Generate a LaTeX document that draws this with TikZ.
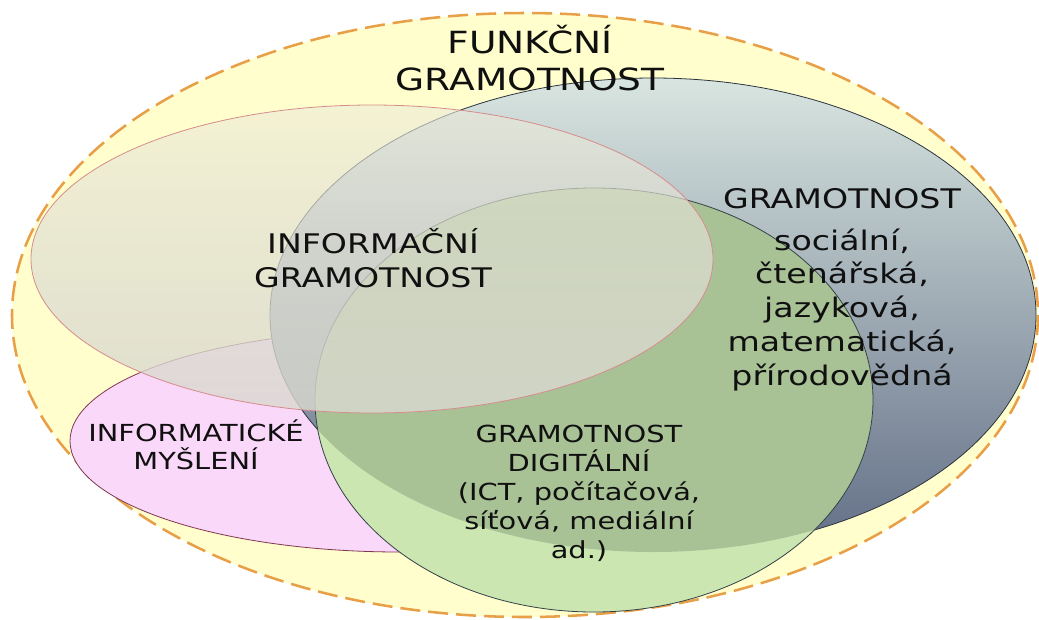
\documentclass[tikz,border=0pt]{standalone}
\usepackage{fontspec}
\usepackage{tikz}
\usetikzlibrary{fadings}
\newfontfamily\vennfont[FakeStretch=1.23]{DejaVu Sans}

\begin{document}
\begin{tikzpicture}[x=0.75pt,y=0.75pt,yscale=-1,xscale=1,
	lbl/.style={anchor=base, inner sep=0.75pt, align=center, color={rgb, 255:red, 16; green, 16; blue, 16 }}]
	      		%set diagram size to 1039 x 619
	      		\useasboundingbox (0,0) rectangle (1039,619);
	      		
	      		%Shape: Ellipse [id:funkcni] 
	      		\draw  [color={rgb, 255:red, 232; green, 160; blue, 72 }  ,draw opacity=1 ][fill={rgb, 255:red, 255; green, 254; blue, 204 }  ,fill opacity=1 ][line width=1.9]  [dash pattern={on 15pt off 6pt}] (525,315) ellipse [x radius=513, y radius=302] ;
	      		%Shape: Ellipse [id:myslenije] 
	      		\draw  [color={rgb, 255:red, 128; green, 56; blue, 80 }  ,draw opacity=1 ][fill={rgb, 255:red, 250; green, 216; blue, 250 }  ,fill opacity=1 ][line width=0.6]  (400,441) ellipse [x radius=330, y radius=111] ;
	      		%Shape: Ellipse [id:ctenarska] 
	      		\shade  [top color={rgb, 255:red, 216; green, 229; blue, 224 }, middle color={rgb, 255:red, 190; green, 203; blue, 211 }, bottom color={rgb, 255:red, 98; green, 110; blue, 134 }] (653,315) ellipse [x radius=383, y radius=237] ;
	      		\draw  [color={rgb, 255:red, 44; green, 52; blue, 64 }  ,draw opacity=1 ][line width=0.6]  (653,315) ellipse [x radius=383, y radius=237] ;
	      		%Shape: Ellipse [id:digitalni] 
	      		\fill  [color={rgb, 255:red, 204; green, 230; blue, 178 }  ] (594,400) ellipse [x radius=279, y radius=212] ;
	      		\begin{scope}
	      		\clip (594,400) ellipse [x radius=279, y radius=212] ;
	      		\fill  [color={rgb, 255:red, 168; green, 194; blue, 150 }  ] (653,315) ellipse [x radius=383, y radius=237] ;
	      		\end{scope}
	      		\draw  [color={rgb, 255:red, 52; green, 64; blue, 72 }  ,draw opacity=1 ][line width=0.6]  (594,400) ellipse [x radius=279, y radius=212] ;
	      		%Shape: Ellipse [id:informacni] 
	      		\shade  [top color={rgb, 255:red, 238; green, 236; blue, 218 }, bottom color={rgb, 255:red, 214; green, 213; blue, 204 }, fill opacity=0.6] (372,259) ellipse [x radius=341, y radius=154] ;
	      		\fill  [color={rgb, 255:red, 220; green, 219; blue, 210 }, path fading=north, fill opacity=0.55] (372,259) ellipse [x radius=341, y radius=154] ;
	      		\draw  [color={rgb, 255:red, 214; green, 140; blue, 140 }  ,draw opacity=1 ][line width=0.6]  (372,259) ellipse [x radius=341, y radius=154] ;
	      		
	      		% Text Node (anchored at last baseline)
	      		\draw (530,90) node [lbl][font={\vennfont\fontsize{22.9}{27.75}\selectfont}] (tfunkcni) {FUNKČNÍ\\GRAMOTNOST};
	      		% Text Node
	      		\draw (373,287) node [lbl][font={\vennfont\fontsize{20.25}{25.5}\selectfont}] (tinformacni) {INFORMAČNÍ\\GRAMOTNOST};
	      		% Text Node
	      		\draw (842,208) node [lbl][font={\vennfont\fontsize{20.25}{25.3}\selectfont}] (tgramotnost) {GRAMOTNOST};
	      		% Text Node
	      		\draw (842,385) node [lbl][font={\vennfont\fontsize{20.25}{25.3}\selectfont}] (tdruhy) {sociální,\\čtenářská,\\jazyková,\\matematická,\\přírodovědná};
	      		% Text Node
	      		\draw (196,469) node [lbl][font={\vennfont\fontsize{17.6}{20.6}\selectfont}] (tmysleni) {INFORMATICKÉ\\MYŠLENÍ};
	      		% Text Node
	      		\draw (579,558) node [lbl][font={\vennfont\fontsize{17.6}{21.75}\selectfont}] (tdigitalni) {GRAMOTNOST\\DIGITÁLNÍ\\(ICT, počítačová,\\síťová, mediální\\ad.)};
	      		
\end{tikzpicture}
\end{document}
